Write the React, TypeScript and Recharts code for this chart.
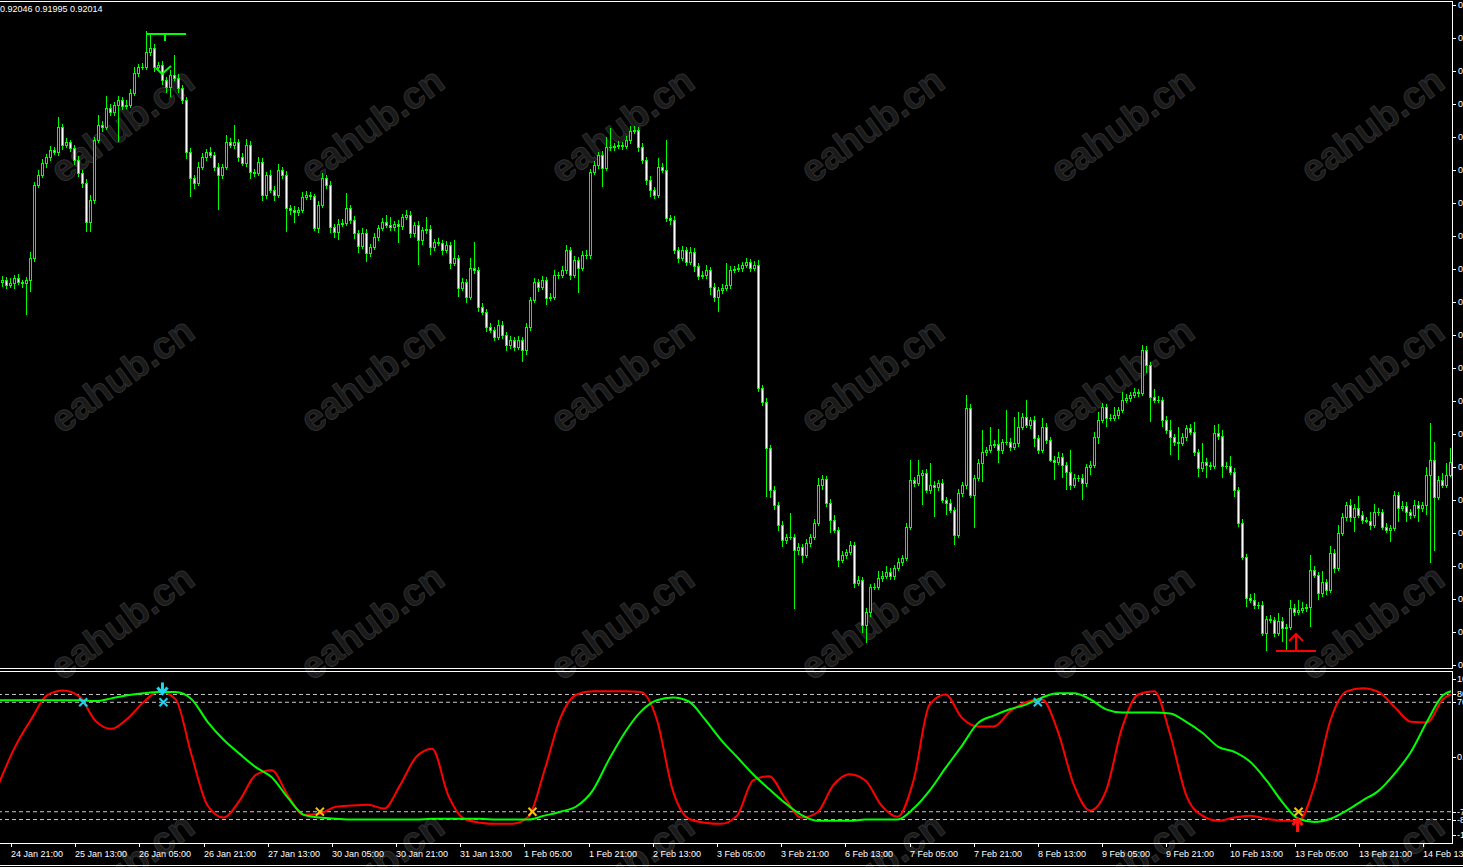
import React from "react";
import { ComposedChart, Bar, Line, XAxis, YAxis, ReferenceLine, ReferenceDot } from "recharts";

// prices in points (1 point = 0.00001), H1 bars
const firstOpen = 92569;
const closes = [
  92575, 92560, 92566, 92581, 92569, 92566, 92575, 92641, 92860, 92890,
  92926, 92944, 92965, 92959, 93034, 92980, 92989, 92971, 92935, 92896,
  92866, 92749, 92815, 92995, 93040, 93034, 93091, 93079, 93100, 93115,
  93097, 93100, 93136, 93196, 93214, 93214, 93259, 93271, 93214, 93220,
  93175, 93154, 93190, 93181, 93151, 93115, 92959, 92881, 92866, 92914,
  92944, 92959, 92950, 92914, 92890, 92914, 92989, 92980, 92989, 92944,
  92926, 92980, 92899, 92896, 92929, 92830, 92890, 92845, 92830, 92905,
  92890, 92791, 92785, 92779, 92785, 92824, 92830, 92827, 92731, 92800,
  92881, 92860, 92734, 92719, 92743, 92746, 92791, 92755, 92716, 92677,
  92716, 92656, 92674, 92704, 92731, 92749, 92740, 92734, 92743, 92737,
  92764, 92770, 92716, 92740, 92695, 92725, 92728, 92674, 92689, 92686,
  92665, 92680, 92626, 92641, 92551, 92569, 92524, 92611, 92605, 92494,
  92479, 92434, 92425, 92404, 92440, 92410, 92380, 92395, 92374, 92395,
  92365, 92434, 92515, 92569, 92554, 92575, 92521, 92524, 92590, 92590,
  92605, 92665, 92590, 92635, 92611, 92650, 92650, 92899, 92920, 92950,
  92911, 92974, 92974, 92977, 92980, 92977, 92995, 93022, 93025, 92974,
  92935, 92875, 92845, 92830, 92914, 92905, 92761, 92755, 92665, 92641,
  92665, 92629, 92659, 92617, 92587, 92590, 92605, 92554, 92524, 92545,
  92551, 92560, 92605, 92608, 92611, 92620, 92629, 92611, 92620, 92251,
  92209, 92071, 91945, 91900, 91840, 91795, 91804, 91804, 91765, 91774,
  91750, 91786, 91804, 91846, 91960, 91978, 91906, 91855, 91825, 91735,
  91750, 91759, 91780, 91666, 91675, 91540, 91579, 91654, 91654, 91681,
  91687, 91699, 91687, 91711, 91729, 91741, 91834, 91975, 91966, 91990,
  91996, 91945, 91960, 91954, 91966, 91915, 91906, 91885, 91810, 91936,
  91960, 92191, 91930, 91981, 92026, 92059, 92065, 92080, 92083, 92065,
  92089, 92089, 92074, 92086, 92134, 92164, 92140, 92155, 92101, 92065,
  92134, 92095, 92035, 92029, 92044, 92020, 91999, 91960, 91981, 91981,
  91966, 92014, 92020, 92104, 92155, 92194, 92161, 92161, 92170, 92185,
  92215, 92221, 92230, 92239, 92236, 92365, 92320, 92224, 92215, 92215,
  92155, 92125, 92104, 92089, 92086, 92104, 92131, 92119, 92059, 92011,
  92029, 92020, 92017, 92116, 92107, 92017, 92017, 91999, 91945, 91846,
  91744, 91621, 91615, 91600, 91600, 91516, 91558, 91555, 91516, 91552,
  91531, 91534, 91591, 91579, 91585, 91591, 91594, 91705, 91690, 91636,
  91669, 91645, 91756, 91711, 91816, 91864, 91900, 91864, 91891, 91870,
  91855, 91852, 91840, 91879, 91879, 91834, 91825, 91831, 91930, 91891,
  91897, 91879, 91870, 91900, 91891, 91900, 91990, 92035, 91924, 91975,
  91960, 91990, 92029,
];
// upper / lower shadows in points
const upWick = [
  12, 9, 15, 9, 12, 6, 9, 18, 9, 15, 12, 9, 12, 9, 30, 9, 12, 6, 9, 12,
  9, 12, 15, 9, 30, 12, 36, 12, 9, 12, 9, 15, 12, 18, 9, 12, 63, 39, 12, 9,
  12, 9, 15, 60, 12, 9, 9, 12, 9, 15, 12, 9, 15, 9, 12, 9, 21, 12, 51, 9,
  12, 18, 12, 9, 15, 12, 9, 15, 12, 18, 9, 12, 9, 12, 9, 15, 12, 9, 6, 12,
  15, 9, 12, 9, 15, 12, 45, 9, 12, 9, 15, 12, 9, 12, 9, 12, 21, 24, 9, 12,
  9, 15, 12, 9, 12, 9, 36, 12, 9, 12, 9, 12, 9, 54, 9, 12, 9, 30, 78, 9,
  12, 9, 12, 9, 15, 12, 9, 12, 9, 12, 9, 12, 9, 12, 9, 12, 9, 12, 15, 9,
  12, 15, 9, 12, 9, 12, 15, 9, 12, 9, 12, 30, 57, 9, 12, 9, 12, 15, 12, 9,
  12, 9, 12, 9, 27, 12, 90, 9, 12, 9, 12, 9, 15, 12, 9, 12, 15, 9, 12, 9,
  12, 66, 12, 9, 12, 9, 12, 9, 12, 15, 9, 12, 9, 12, 9, 12, 9, 72, 9, 12,
  9, 12, 9, 12, 21, 12, 9, 12, 15, 9, 12, 9, 12, 9, 12, 9, 12, 9, 12, 21,
  15, 18, 12, 9, 12, 9, 12, 60, 9, 45, 9, 12, 66, 12, 9, 12, 9, 12, 9, 12,
  9, 39, 12, 9, 12, 66, 9, 54, 12, 45, 9, 96, 12, 78, 45, 12, 51, 9, 12, 9,
  27, 12, 9, 12, 15, 12, 9, 66, 12, 9, 12, 9, 12, 15, 24, 12, 9, 12, 24, 9,
  24, 12, 9, 12, 9, 15, 12, 9, 24, 12, 9, 12, 30, 9, 45, 12, 9, 12, 30, 9,
  57, 12, 9, 24, 27, 18, 12, 30, 12, 9, 12, 9, 12, 21, 9, 12, 9, 12, 9, 24,
  12, 9, 24, 12, 30, 18, 9, 45, 12, 9, 33, 9, 21, 12, 24, 12, 9, 18, 12, 36,
  12, 9, 27, 24, 12, 9, 12, 9, 12, 9, 15, 12, 9, 15, 12, 9, 24, 111, 54, 12,
  21, 36, 42,
];
const dnWick = [
  15, 12, 9, 18, 9, 15, 96, 36, 12, 9, 9, 15, 12, 9, 12, 15, 9, 12, 15, 12,
  15, 30, 30, 12, 9, 15, 9, 12, 12, 110, 12, 9, 9, 9, 12, 9, 9, 12, 15, 12,
  15, 18, 30, 9, 15, 12, 21, 57, 18, 9, 9, 12, 9, 12, 105, 12, 9, 9, 12, 15,
  9, 12, 21, 12, 9, 18, 12, 9, 18, 9, 12, 72, 15, 33, 12, 9, 9, 12, 9, 15,
  9, 12, 18, 18, 24, 9, 9, 12, 18, 21, 9, 27, 12, 9, 12, 9, 9, 12, 12, 51,
  12, 9, 15, 12, 75, 15, 12, 24, 12, 9, 15, 9, 18, 9, 27, 9, 18, 9, 12, 15,
  9, 15, 9, 12, 9, 12, 18, 12, 12, 9, 36, 15, 12, 9, 15, 9, 21, 9, 9, 12,
  9, 12, 15, 9, 75, 9, 12, 12, 9, 12, 57, 9, 12, 12, 9, 12, 9, 12, 9, 15,
  12, 15, 21, 12, 9, 9, 12, 15, 12, 15, 9, 12, 9, 18, 12, 9, 12, 24, 15, 45,
  12, 9, 12, 9, 9, 12, 9, 12, 9, 12, 12, 147, 24, 15, 18, 21, 12, 9, 177, 15,
  24, 9, 12, 9, 9, 15, 12, 39, 9, 21, 9, 12, 9, 15, 9, 24, 54, 15, 9, 9,
  12, 9, 12, 12, 9, 12, 9, 9, 12, 9, 90, 9, 12, 90, 12, 9, 36, 9, 30, 9,
  12, 12, 9, 99, 9, 57, 12, 9, 9, 39, 12, 9, 12, 9, 12, 9, 9, 12, 27, 12,
  9, 12, 6, 54, 9, 39, 54, 15, 9, 12, 51, 12, 24, 9, 21, 9, 27, 9, 9, 12,
  9, 9, 12, 9, 12, 9, 24, 75, 9, 9, 21, 12, 54, 12, 51, 9, 12, 9, 12, 27,
  12, 39, 12, 9, 12, 36, 9, 9, 21, 12, 9, 27, 9, 12, 12, 9, 54, 9, 12, 9,
  42, 66, 9, 12, 9, 9, 12, 60, 9, 21, 12, 15, 9, 15, 9, 9, 12, 15, 45, 9,
  12, 6, 15, 9, 12, 9, 9, 36, 9, 42, 9, 30, 12, 9, 42, 12, 30, 264, 162, 9,
  9, 9, 6,
];

const headerText = "0.92046 0.91995 0.92014";
const priceTicks = [
  93400, 93301, 93202, 93103, 93004, 92905, 92806, 92707, 92608, 92509, 92410,
  92311, 92212, 92113, 92014, 91915, 91816, 91717, 91618, 91519, 91420,
];
const priceDomain = [91408, 93412];

const timeLabels = [
  "24 Jan 21:00", "25 Jan 13:00", "26 Jan 05:00", "26 Jan 21:00", "27 Jan 13:00",
  "30 Jan 05:00", "30 Jan 21:00", "31 Jan 13:00", "1 Feb 05:00", "1 Feb 21:00",
  "2 Feb 13:00", "3 Feb 05:00", "3 Feb 21:00", "6 Feb 13:00", "7 Feb 05:00",
  "7 Feb 21:00", "8 Feb 13:00", "9 Feb 05:00", "9 Feb 21:00", "10 Feb 13:00",
  "13 Feb 05:00", "13 Feb 21:00", "14 Feb 13:00",
];
const firstLabelBar = 3;
const labelStep = 16;

// oscillator, sampled every 4 bars (last sample on the last bar)
const redLine = [
  -33.6, 13, 48, 79, 85, 77.5, 46.5, 36, 49, 70, 84, 74, 2.5, -62, -77.5, -55.5,
  -23, -17, -49, -74, -72.5, -63.5, -62, -61, -66, -36, 0, 10.5, -49, -79, -84,
  -85.5, -85.5, -76.5, -17, 50.5, 80, 84, 84, 84, 83, 48, -43, -79, -84, -85.5,
  -75, -30, -24.5, -53, -77.5, -71, -36, -22, -30, -62, -76.5, -30, 67, 80, 50.5,
  39, 39, 58, 70, 74, 32.5, -36, -68.5, -43, 37.5, 80, 84, 28.5, -49, -75, -81.5,
  -77.5, -75, -79, -81.5, -81.5, -36, 48, 84, 88, 83, 63.5, 45, 44, 74, 80,
];
const greenLine = [
  72.5, 72.5, 72.5, 72.5, 72.5, 72.5, 71.5, 75, 79, 81.5, 83, 83, 74, 45, 22, 4,
  -13, -26, -52, -74, -77.5, -79, -80, -80, -80, -80, -80, -79, -79, -79, -79,
  -80, -80, -80, -75, -70, -63, -43, -4, 31, 58, 72.5, 76, 71, 48, 22, 0, -22,
  -41, -59, -74, -81.5, -81.5, -81.5, -80, -80, -80, -66, -43, -14, 14, 43, 53,
  61, 67, 76, 81.5, 81.5, 74, 61, 57, 57, 57, 55.5, 45, 31, 13, 6.5, -6.5, -30,
  -58, -79, -83, -79, -68.5, -55.5, -43, -21, 6.5, 45, 79, 84,
];
const oscLevels = [80, 70, -70, -80];
const oscTicks = [100, 80, 70, 0, -70, -80, -100];

const crossUpBars = [21, 41, 259];
const crossDnBars = [80, 133, 324];
const sellArrowBar = 41;
const buyArrowBar = 324;
const highMark = { bar: 41, price: 93310 };
const checkMark = { bar: 41, price: 93208 };
const lowMark = { bar: 324, price: 91465 };

const P = 1e5;
const LIME = "#00ff00";
const FONT = "Liberation Sans, Arial, sans-serif";

const candles = closes.map((c, i) => {
  const o = i === 0 ? firstOpen : closes[i - 1];
  const h = Math.max(o, c) + upWick[i];
  const l = Math.min(o, c) - dnWick[i];
  return { i, open: o / P, close: c / P, high: h / P, low: l / P, range: [l / P, h / P] };
});

const oscBars = redLine.map((_, k) => (k < redLine.length - 1 ? k * 4 : closes.length - 1));
const oscRows: { i: number; red: number | null; green: number | null }[] = closes.map((_, i) => ({
  i,
  red: null,
  green: null,
}));
oscBars.forEach((b, k) => {
  oscRows[b].red = redLine[k];
  oscRows[b].green = greenLine[k];
});

const Candle = (props: any) => {
  const { x, y, width, height, payload } = props;
  if (!payload) return null;
  const { open, close, high, low } = payload;
  const cx = Math.round(x + width / 2) + 0.5;
  const span = high - low;
  const yOf = (p: number) => (span > 0 ? y + ((high - p) / span) * height : y);
  const top = Math.round(Math.min(yOf(open), yOf(close))) + 0.5;
  const bot = Math.round(Math.max(yOf(open), yOf(close))) + 0.5;
  const bull = close >= open;
  return (
    <g>
      <line x1={cx} x2={cx} y1={Math.round(y)} y2={Math.round(y + height)} stroke={LIME} strokeWidth={1} />
      {bot - top < 1 ? (
        <line x1={cx - 1.5} x2={cx + 1.5} y1={top} y2={top} stroke={LIME} strokeWidth={1} />
      ) : (
        <rect x={cx - 1} y={top} width={2} height={bot - top} fill={bull ? "#000" : "#fff"} stroke={LIME} strokeWidth={1} />
      )}
    </g>
  );
};

const PriceTick = (p: any) => {
  const yy = Math.round(p.y) + 0.5;
  return (
    <g>
      <line x1={1454} x2={1457} y1={yy} y2={yy} stroke="#fff" />
      <text x={1459} y={p.y + 3} fill="#fff" fontSize={9} fontFamily={FONT}>
        {Number(p.payload.value).toFixed(4)}
      </text>
    </g>
  );
};

const OscTick = (p: any) => {
  const yy = Math.round(p.y) + 0.5;
  const v = Number(p.payload.value);
  return (
    <g>
      <line x1={1454} x2={1457} y1={yy} y2={yy} stroke="#fff" />
      <text x={1458} y={p.y + 3} fill="#fff" fontSize={9} fontFamily={FONT}>
        {v === 0 ? "0.00" : String(v)}
      </text>
    </g>
  );
};

const TimeTick = (p: any) => {
  const bar = Number(p.payload.value);
  const k = bar - firstLabelBar;
  if (k < 0 || k % labelStep !== 0) return null;
  const label = timeLabels[k / labelStep];
  if (!label) return null;
  const tx = Math.round(p.x) + 0.5;
  return (
    <g>
      <line x1={tx} x2={tx} y1={172} y2={176} stroke="#fff" />
      <text x={Math.round(p.x)} y={186} fill="#fff" fontSize={9} fontFamily={FONT}>
        {label}
      </text>
    </g>
  );
};

const HighMarkShape = ({ cx, cy }: any) => (
  <g fill={LIME}>
    <rect x={Math.round(cx) - 19} y={Math.round(cy) - 2} width={40} height={2} />
    <rect x={Math.round(cx) - 1} y={Math.round(cy)} width={2} height={6} />
  </g>
);

const CheckShape = ({ cx, cy }: any) => (
  <polyline
    points={`${cx - 9},${cy - 1} ${cx - 3},${cy + 5} ${cx + 6},${cy - 3}`}
    fill="none"
    stroke={LIME}
    strokeWidth={2}
  />
);

const LowMarkShape = ({ cx, cy }: any) => {
  const x = Math.round(cx);
  const y = Math.round(cy);
  return (
    <g>
      <rect x={x - 21} y={y} width={40} height={2} fill="#ff0000" />
      <rect x={x - 2} y={y - 17} width={2} height={17} fill="#ff0000" />
      <polyline points={`${x - 8},${y - 9} ${x - 1},${y - 16} ${x + 6},${y - 9}`} fill="none" stroke="#ff0000" strokeWidth={2} />
    </g>
  );
};

const CrossShape = (color: string) => ({ cx, cy }: any) => (
  <g stroke={color} strokeWidth={2}>
    <line x1={cx - 4} y1={cy - 4} x2={cx + 4} y2={cy + 4} />
    <line x1={cx - 4} y1={cy + 4} x2={cx + 4} y2={cy - 4} />
  </g>
);

const DownArrowShape = ({ cx, cy }: any) => (
  <g stroke="#19d8f5" strokeWidth={3} fill="none">
    <line x1={cx - 1} y1={cy - 12} x2={cx - 1} y2={cy - 1} />
    <polyline points={`${cx - 6},${cy - 7} ${cx - 1},${cy - 1} ${cx + 4},${cy - 7}`} />
  </g>
);

const UpArrowShape = ({ cx, cy }: any) => (
  <g stroke="#ff1414" strokeWidth={3} fill="none">
    <line x1={cx - 1} y1={cy + 1} x2={cx - 1} y2={cy + 14} />
    <polyline points={`${cx - 6},${cy + 7} ${cx - 1},${cy + 1} ${cx + 4},${cy + 7}`} />
  </g>
);

const wmX = [122, 372, 622, 872, 1122, 1372];
const wmY = [125, 375, 622, 870];

export default function App() {
  return (
    <div style={{ position: "fixed", left: 0, top: 0, width: 1463, height: 867, background: "#000", overflow: "hidden" }}>
      <svg width={1463} height={867} style={{ position: "absolute", left: 0, top: 0 }}>
        {wmY.flatMap((y) =>
          wmX.map((x) => (
            <text
              key={`${x}-${y}`}
              x={x}
              y={y}
              transform={`rotate(-36 ${x} ${y})`}
              textAnchor="middle"
              dominantBaseline="central"
              fontFamily={FONT}
              fontWeight="bold"
              fontSize={38}
              fill="#1a1a1a"
              stroke="#2f2f2f"
              strokeWidth={1}
            >
              eahub.cn
            </text>
          ))
        )}
      </svg>

      <div style={{ position: "absolute", left: -1, top: 0 }}>
        <ComposedChart width={1465} height={669} data={candles} margin={{ top: 1, right: 0, bottom: 0, left: 0 }}>
          <XAxis dataKey="i" hide />
          <YAxis
            orientation="right"
            width={13}
            domain={[priceDomain[0] / P, priceDomain[1] / P]}
            allowDataOverflow
            ticks={priceTicks.map((t) => t / P)}
            interval={0}
            axisLine={false}
            tickLine={false}
            tick={PriceTick}
          />
          <Bar dataKey="range" barSize={3} shape={Candle} isAnimationActive={false} />
          <ReferenceDot x={highMark.bar} y={highMark.price / P} shape={HighMarkShape} ifOverflow="visible" />
          <ReferenceDot x={checkMark.bar} y={checkMark.price / P} shape={CheckShape} ifOverflow="visible" />
          <ReferenceDot x={lowMark.bar} y={lowMark.price / P} shape={LowMarkShape} ifOverflow="visible" />
        </ComposedChart>
      </div>

      <div style={{ position: "absolute", left: -1, top: 671 }}>
        <ComposedChart width={1465} height={196} data={oscRows} margin={{ top: 0, right: 0, bottom: 0, left: 0 }}>
          <XAxis dataKey="i" height={24} interval={0} axisLine={false} tickLine={false} tick={TimeTick} />
          <YAxis
            orientation="right"
            width={13}
            domain={[-110, 110]}
            allowDataOverflow
            ticks={oscTicks}
            interval={0}
            axisLine={false}
            tickLine={false}
            tick={OscTick}
          />
          {oscLevels.map((l) => (
            <ReferenceLine key={l} y={l} stroke="#c8c8c8" strokeDasharray="4 3" />
          ))}
          <Line dataKey="red" type="monotone" stroke="#ff0000" strokeWidth={2} dot={false} connectNulls isAnimationActive={false} />
          <Line dataKey="green" type="monotone" stroke={LIME} strokeWidth={2} dot={false} connectNulls isAnimationActive={false} />
          {crossUpBars.map((b) => (
            <ReferenceDot key={`u${b}`} x={b} y={70} shape={CrossShape("#22d3f0")} ifOverflow="visible" />
          ))}
          {crossDnBars.map((b) => (
            <ReferenceDot key={`d${b}`} x={b} y={-70} shape={CrossShape("#f2c218")} ifOverflow="visible" />
          ))}
          <ReferenceDot x={sellArrowBar} y={80} shape={DownArrowShape} ifOverflow="visible" />
          <ReferenceDot x={buyArrowBar} y={-78} shape={UpArrowShape} ifOverflow="visible" />
        </ComposedChart>
      </div>

      <svg width={1463} height={867} style={{ position: "absolute", left: 0, top: 0, pointerEvents: "none" }}>
        <g stroke="#fff" strokeWidth={1}>
          <line x1={0} x2={1453} y1={1.5} y2={1.5} />
          <line x1={1452.5} x2={1452.5} y1={1} y2={669} />
          <line x1={0} x2={1453} y1={668.5} y2={668.5} />
          <line x1={0} x2={1453} y1={671.5} y2={671.5} />
          <line x1={1452.5} x2={1452.5} y1={671} y2={844} />
          <line x1={0} x2={1453} y1={843.5} y2={843.5} />
          <line x1={0} x2={1463} y1={865.5} y2={865.5} />
        </g>
        <text x={0} y={12} fill="#fff" fontSize={9} fontFamily={FONT}>
          {headerText}
        </text>
      </svg>
    </div>
  );
}
